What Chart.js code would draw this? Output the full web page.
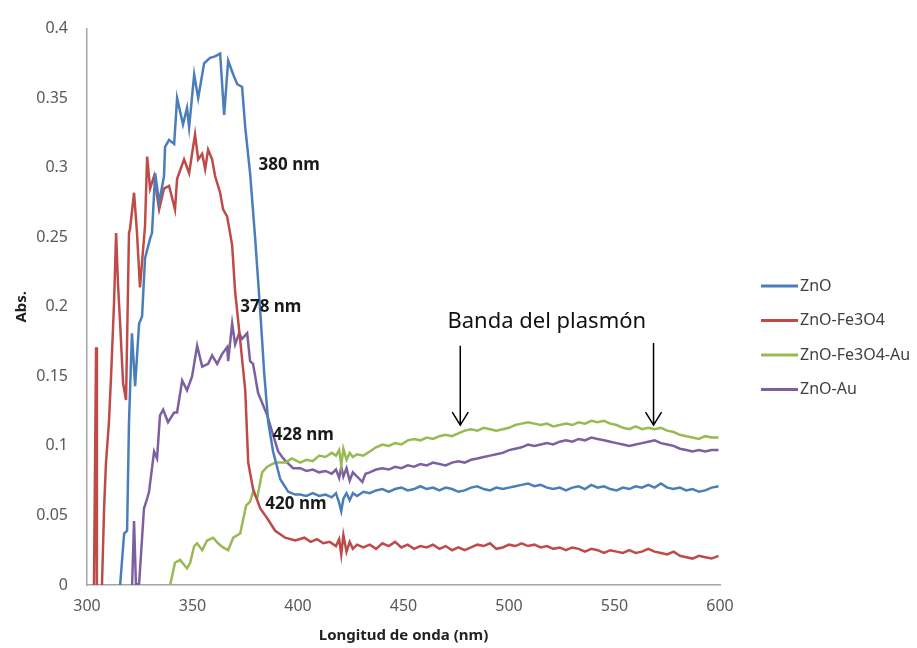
<!DOCTYPE html>
<html>
<head>
<meta charset="utf-8">
<script src="https://cdn.jsdelivr.net/npm/chart.js@4.4.0/dist/chart.umd.min.js"></script>
<style>
  html, body { margin: 0; padding: 0; background: #fff; }
  #wrap { width: 917px; height: 648px; position: relative; }
</style>
</head>
<body>
<div id="wrap"><canvas id="absChart"></canvas></div>
<script>
// series (wavelength nm / absorbance)
const seriesNames = ['ZnO', 'ZnO-Fe3O4', 'ZnO-Fe3O4-Au', 'ZnO-Au'];
const seriesColors = ['#4a7ebb', '#be4b48', '#98b954', '#7d60a0'];

const znoNm = [315.7, 317.6, 319.0, 319.9, 321.3, 322.8, 324.7, 326.1, 327.5, 329.9, 330.8, 332.3, 334.2, 336.5, 337.0, 338.9,
  341.3, 342.7, 345.5, 347.4, 348.4, 350.8, 352.7, 355.5, 358.3, 360.7, 363.1, 365.0, 366.9, 369.3, 371.2, 373.5, 375.0,
  377.3, 379.7, 382.1, 384.0, 385.9, 388.2, 391.6, 395.4, 398.7,
  401, 404, 407, 410, 413, 416, 418, 419.5, 420.5, 421.5, 423, 424.5, 426, 428, 431, 434, 437, 440, 443, 446, 449, 452,
  455, 458, 461, 464, 467, 470, 473, 476, 479, 482, 485, 488, 491, 494, 497, 500, 503, 506, 509, 512, 515, 518, 521, 524,
  527, 530, 533, 536, 539, 542, 545, 548, 551, 554, 557, 560, 563, 566, 569, 572, 575, 578, 581, 584, 587, 590, 593, 596,
  599.3];
const znoAbs = [0, 0.037, 0.039, 0.117, 0.181, 0.143, 0.188, 0.193, 0.235, 0.249, 0.253, 0.296, 0.275, 0.294, 0.315, 0.320,
  0.317, 0.350, 0.331, 0.343, 0.329, 0.367, 0.350, 0.375, 0.379, 0.380, 0.382, 0.338, 0.377, 0.367, 0.360, 0.358, 0.329,
  0.296, 0.249, 0.197, 0.152, 0.117, 0.096, 0.076, 0.067, 0.065,
  0.065, 0.064, 0.066, 0.064, 0.065, 0.063, 0.066, 0.059, 0.053, 0.062, 0.066, 0.061, 0.066, 0.064, 0.067, 0.066, 0.068,
  0.069, 0.067, 0.069, 0.070, 0.068, 0.069, 0.071, 0.069, 0.070, 0.068, 0.070, 0.069, 0.067, 0.068, 0.070, 0.071, 0.069,
  0.068, 0.070, 0.069, 0.070, 0.071, 0.072, 0.073, 0.071, 0.072, 0.070, 0.069, 0.070, 0.068, 0.070, 0.071, 0.069, 0.072,
  0.070, 0.071, 0.069, 0.068, 0.070, 0.069, 0.071, 0.070, 0.072, 0.070, 0.073, 0.070, 0.069, 0.070, 0.068, 0.069, 0.067,
  0.068, 0.070, 0.071];

const fe3o4Nm = [302.0, 303.3, 304.3, 304.7, 306.6, 307.1, 308.1, 309.0, 310.4, 311.4, 312.8, 313.8, 314.7, 315.7, 317.1,
  318.5, 319.9, 320.4, 322.3, 323.7, 325.1, 327.5, 328.5, 329.9, 331.8, 334.2, 336.5, 338.9, 341.7, 342.7, 346.0, 348.4,
  351.2, 352.7, 354.6, 356.0, 357.4, 359.3, 360.7, 363.1, 364.5, 366.4, 367.8, 368.8, 370.2, 372.6, 375.0, 376.4, 378.7,
  382.1, 385.4, 389.2, 393.9, 398.7,
  403, 406, 409, 412, 415, 418, 419.5, 420.5, 421.5, 423, 424.5, 426, 428, 431, 434, 437, 440, 443, 446, 449, 452, 455,
  458, 461, 464, 467, 470, 473, 476, 479, 482, 485, 488, 491, 494, 497, 500, 503, 506, 509, 512, 515, 518, 521, 524, 527,
  530, 533, 536, 539, 542, 545, 548, 551, 554, 557, 560, 563, 566, 569, 572, 575, 578, 581, 584, 587, 590, 593, 596, 599.3];
const fe3o4Abs = [-0.01, 0, 0.171, -0.01, -0.01, 0, 0.055, 0.088, 0.117, 0.150, 0.202, 0.253, 0.216, 0.188, 0.145,
  0.133, 0.253, 0.256, 0.282, 0.253, 0.214, 0.258, 0.308, 0.285, 0.294, 0.270, 0.285, 0.287, 0.270, 0.292, 0.306, 0.296,
  0.324, 0.306, 0.310, 0.299, 0.313, 0.306, 0.294, 0.282, 0.270, 0.265, 0.253, 0.244, 0.211, 0.176, 0.140, 0.088, 0.069,
  0.055, 0.048, 0.039, 0.034, 0.032,
  0.034, 0.031, 0.033, 0.030, 0.031, 0.028, 0.033, 0.022, 0.036, 0.024, 0.031, 0.026, 0.029, 0.027, 0.029, 0.026, 0.030,
  0.028, 0.031, 0.027, 0.029, 0.026, 0.028, 0.027, 0.029, 0.026, 0.028, 0.025, 0.027, 0.025, 0.027, 0.029, 0.028, 0.030,
  0.026, 0.027, 0.029, 0.028, 0.030, 0.028, 0.029, 0.027, 0.028, 0.026, 0.027, 0.025, 0.027, 0.026, 0.024, 0.026, 0.025,
  0.023, 0.025, 0.024, 0.023, 0.025, 0.023, 0.024, 0.026, 0.024, 0.023, 0.022, 0.024, 0.021, 0.020, 0.019, 0.021, 0.020,
  0.019, 0.021];

const fe3o4AuNm = [338.4, 339.4, 341.7, 344.1, 347.4, 348.9, 350.8, 352.2, 354.6, 356.9, 359.8, 362.1, 364.5, 366.9, 369.3,
  372.6, 375.4, 377.3, 378.7, 380.6, 383.0, 385.4, 389.2, 393.9, 397.2,
  401, 404, 407, 410, 413, 416, 418, 419.5, 420.5, 421.5, 423, 424.5, 426, 428, 431, 434, 437, 440, 443, 446, 449, 452,
  455, 458, 461, 464, 467, 470, 473, 476, 479, 482, 485, 488, 491, 494, 497, 500, 503, 506, 509, 512, 515, 518, 521, 524,
  527, 530, 533, 536, 539, 542, 545, 548, 551, 554, 557, 560, 563, 566, 569, 572, 575, 578, 581, 584, 587, 590, 593, 596,
  599.3];
const fe3o4AuAbs = [-0.004, 0, 0.016, 0.018, 0.012, 0.016, 0.028, 0.030, 0.025, 0.032, 0.034, 0.030, 0.027, 0.025, 0.034,
  0.037, 0.057, 0.060, 0.067, 0.062, 0.081, 0.085, 0.088, 0.088, 0.091,
  0.088, 0.090, 0.089, 0.093, 0.092, 0.095, 0.093, 0.097, 0.086, 0.098, 0.090, 0.095, 0.092, 0.094, 0.093, 0.096, 0.099,
  0.101, 0.100, 0.102, 0.101, 0.104, 0.105, 0.104, 0.106, 0.105, 0.107, 0.108, 0.107, 0.109, 0.111, 0.112, 0.111, 0.113,
  0.112, 0.111, 0.112, 0.113, 0.115, 0.116, 0.117, 0.116, 0.115, 0.116, 0.114, 0.115, 0.116, 0.115, 0.117, 0.116, 0.118,
  0.117, 0.118, 0.116, 0.115, 0.113, 0.112, 0.114, 0.112, 0.113, 0.112, 0.113, 0.111, 0.110, 0.108, 0.107, 0.106, 0.105,
  0.107, 0.106, 0.106];

const znoAuNm = [321.3, 322.3, 323.2, 324.7, 327.0, 328.5, 329.4, 331.8, 333.2, 334.6, 336.1, 338.4, 341.3, 342.7, 345.1,
  347.4, 349.8, 352.2, 354.6, 357.4, 359.3, 361.7, 364.0, 366.4, 366.9, 368.8, 370.2, 372.1, 373.5, 375.9, 377.3, 378.7,
  381.1, 383.0, 385.4, 388.2, 390.6, 393.0, 394.9, 397.7,
  401, 404, 407, 410, 413, 416, 418, 419.5, 420.5, 421.5, 423, 424.5, 426, 428, 430.5, 432, 434, 437, 440, 443, 446, 449,
  452, 455, 458, 461, 464, 467, 470, 473, 476, 479, 482, 485, 488, 491, 494, 497, 500, 503, 506, 509, 512, 515, 518, 521,
  524, 527, 530, 533, 536, 539, 542, 545, 548, 551, 554, 557, 560, 563, 566, 569, 572, 575, 578, 581, 584, 587, 590, 593,
  596, 599.3];
const znoAuAbs = [-0.004, 0.046, 0, 0.001, 0.055, 0.062, 0.067, 0.096, 0.091, 0.122, 0.126, 0.117, 0.124, 0.124, 0.147,
  0.140, 0.150, 0.172, 0.157, 0.159, 0.165, 0.159, 0.166, 0.171, 0.161, 0.188, 0.173, 0.181, 0.177, 0.181, 0.161, 0.159,
  0.138, 0.131, 0.122, 0.108, 0.096, 0.091, 0.088, 0.084,
  0.084, 0.082, 0.083, 0.081, 0.082, 0.080, 0.083, 0.077, 0.085, 0.078, 0.084, 0.075, 0.081, 0.078, 0.074, 0.080, 0.081,
  0.083, 0.084, 0.083, 0.085, 0.084, 0.086, 0.085, 0.087, 0.086, 0.088, 0.087, 0.086, 0.088, 0.089, 0.088, 0.090, 0.091,
  0.092, 0.093, 0.094, 0.095, 0.097, 0.098, 0.099, 0.101, 0.100, 0.101, 0.102, 0.101, 0.103, 0.104, 0.103, 0.105, 0.104,
  0.106, 0.105, 0.104, 0.103, 0.102, 0.101, 0.100, 0.101, 0.102, 0.103, 0.104, 0.102, 0.101, 0.100, 0.098, 0.097, 0.096,
  0.097, 0.096, 0.097, 0.097];

const xTickValues = [300, 350, 400, 450, 500, 550, 600];
const yTickValues = [0, 0.05, 0.1, 0.15, 0.2, 0.25, 0.3, 0.35, 0.4];

// peak labels and arrows, anchored in data units
const peakLabels = [
  { text: '380 nm', nm: 381.3, abs: 0.302 },
  { text: '378 nm', nm: 372.6, abs: 0.200 },
  { text: '428 nm', nm: 388.0, abs: 0.108 },
  { text: '420 nm', nm: 384.5, abs: 0.058 }
];
const bandTitle = { text: 'Banda del plasmón', nm: 470.8, abs: 0.189 };
const bandArrows = [
  { nm: 476.9, from: 0.172, to: 0.115 },
  { nm: 568.5, from: 0.174, to: 0.115 }
];

const seriesData = [
  [znoNm, znoAbs],
  [fe3o4Nm, fe3o4Abs],
  [fe3o4AuNm, fe3o4AuAbs],
  [znoAuNm, znoAuAbs]
];

const datasets = seriesData.map(([xs, ys], i) => ({
  label: seriesNames[i],
  data: xs.map((x, j) => ({ x: x, y: ys[j] })),
  borderColor: seriesColors[i],
  backgroundColor: seriesColors[i],
  borderWidth: 2.5,
  pointRadius: 0,
  tension: 0,
  fill: false
}));

const FONT = '"Noto Sans", "DejaVu Sans", sans-serif';

const extrasPlugin = {
  id: 'extras',
  afterDatasetsDraw(chart) {
    const ctx = chart.ctx;
    const xs = chart.scales.x;
    const ys = chart.scales.y;
    ctx.save();

    ctx.fillStyle = '#1a1a1a';
    ctx.font = 'bold 17px ' + FONT;
    ctx.textBaseline = 'middle';
    ctx.textAlign = 'left';
    peakLabels.forEach(l => {
      ctx.fillText(l.text, xs.getPixelForValue(l.nm), ys.getPixelForValue(l.abs));
    });

    ctx.font = '22px ' + FONT;
    ctx.fillStyle = '#111';
    ctx.fillText(bandTitle.text, xs.getPixelForValue(bandTitle.nm), ys.getPixelForValue(bandTitle.abs));

    ctx.strokeStyle = '#000';
    ctx.lineWidth = 1.5;
    bandArrows.forEach(a => {
      const x = xs.getPixelForValue(a.nm);
      const y0 = ys.getPixelForValue(a.from);
      const y1 = ys.getPixelForValue(a.to);
      ctx.beginPath();
      ctx.moveTo(x, y0);
      ctx.lineTo(x, y1);
      ctx.moveTo(x - 8, y1 - 13);
      ctx.lineTo(x, y1);
      ctx.lineTo(x + 8, y1 - 13);
      ctx.stroke();
    });

    // legend on the right
    ctx.font = '16px ' + FONT;
    ctx.fillStyle = '#404040';
    ctx.lineWidth = 3;
    chart.data.datasets.forEach((ds, i) => {
      const y = 286 + i * 34.5;
      ctx.strokeStyle = ds.borderColor;
      ctx.beginPath();
      ctx.moveTo(761, y);
      ctx.lineTo(798, y);
      ctx.stroke();
      ctx.fillText(ds.label, 800, y);
    });
    ctx.restore();
  }
};

new Chart(document.getElementById('absChart'), {
  type: 'line',
  data: { datasets: datasets },
  options: {
    responsive: true,
    maintainAspectRatio: false,
    animation: false,
    layout: { padding: { top: 20, right: 197, bottom: 0, left: 0 } },
    plugins: { legend: { display: false }, tooltip: { enabled: false } },
    scales: {
      x: {
        type: 'linear',
        min: 300,
        max: 600,
        afterBuildTicks: s => { s.ticks = xTickValues.map(v => ({ value: v })); },
        afterFit: s => { s.height = 63; },
        grid: { display: false, drawTicks: false },
        border: { display: true, color: '#a6a6a6', width: 1.5 },
        ticks: { padding: 12, color: '#595959', font: { family: FONT, size: 16 } },
        title: {
          display: true,
          text: 'Longitud de onda (nm)',
          color: '#222',
          font: { family: FONT, size: 15, weight: 'bold' },
          padding: { top: 0, bottom: 3 }
        }
      },
      y: {
        min: 0,
        max: 0.4,
        afterBuildTicks: s => { s.ticks = yTickValues.map(v => ({ value: v })); },
        afterFit: s => { s.width = 87; },
        grid: { display: false, drawTicks: false },
        border: { display: true, color: '#a6a6a6', width: 1.5 },
        ticks: {
          padding: 19,
          color: '#595959',
          font: { family: FONT, size: 16 },
          callback: v => String(+v.toFixed(2))
        },
        title: {
          display: true,
          text: 'Abs.',
          color: '#222',
          font: { family: FONT, size: 15, weight: 'bold' },
          padding: { top: 13, bottom: 0 }
        }
      }
    }
  },
  plugins: [extrasPlugin]
});
</script>
</body>
</html>
